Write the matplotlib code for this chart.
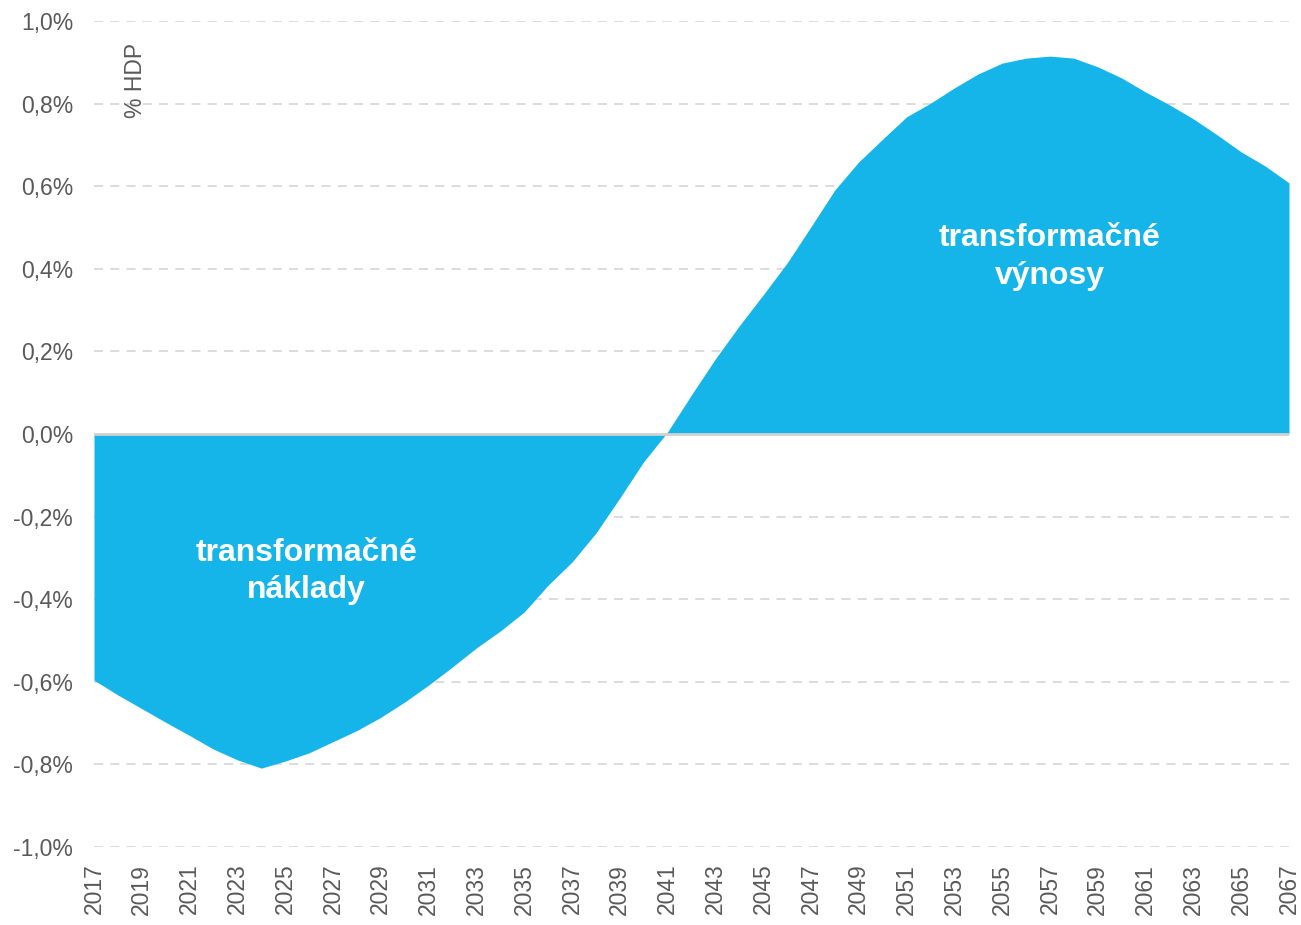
import matplotlib
matplotlib.use('Agg')
import matplotlib.pyplot as plt
import numpy as np

years = list(range(2017, 2068))
values = [
    -0.596, -0.632, -0.665, -0.698, -0.730, -0.763, -0.789, -0.809, -0.792, -0.772,
    -0.745, -0.718, -0.686, -0.649, -0.608, -0.564, -0.518, -0.477, -0.431, -0.366,
    -0.310, -0.240, -0.155, -0.067, 0.005, 0.095, 0.182, 0.262, 0.337, 0.414,
    0.502, 0.591, 0.659, 0.714, 0.768, 0.801, 0.838, 0.872, 0.898, 0.910,
    0.915, 0.910, 0.889, 0.862, 0.828, 0.797, 0.763, 0.724, 0.683, 0.649,
    0.608,
]
y_ticks = [-1.0, -0.8, -0.6, -0.4, -0.2, 0.0, 0.2, 0.4, 0.6, 0.8, 1.0]
y_tick_labels = ['-1,0%', '-0,8%', '-0,6%', '-0,4%', '-0,2%', '0,0%',
                 '0,2%', '0,4%', '0,6%', '0,8%', '1,0%']
x_ticks = years[::2]

plt.rcParams['font.family'] = ['Liberation Sans', 'DejaVu Sans']

fig = plt.figure(figsize=(13.01, 9.25), dpi=100)
ax = fig.add_axes([94 / 1301, 1 - 847 / 925, (1289 - 94) / 1301, (847 - 21) / 925])

fill_color = '#15b5ea'
ax.fill_between(years, values, 0, color=fill_color, linewidth=0, zorder=2)

# gridlines
for t in y_ticks:
    if t == 0:
        continue
    ax.axhline(t, color='#d9d9d9', linewidth=1.3, linestyle=(0, (5, 4)), zorder=1)
ax.axhline(0, color='#d0d0d0', linewidth=2, zorder=3)

ax.set_xlim(2017, 2067)
ax.set_ylim(-1.0, 1.0)
ax.set_yticks(y_ticks)
ax.set_yticklabels(y_tick_labels)
ax.set_xticks(x_ticks)
ax.set_xticklabels([str(y) for y in x_ticks], rotation=90)
ax.tick_params(axis='both', length=0, labelsize=16.5, labelcolor='#595959')
ax.tick_params(axis='y', pad=15)
ax.tick_params(axis='x', pad=12)
for s in ax.spines.values():
    s.set_visible(False)

ax.text(2018.75, 0.855, '% HDP', rotation=90, ha='center', va='center',
        fontsize=16.5, color='#595959')

ax.text(2025.9, -0.333, 'transformačné\nnáklady', ha='center', va='center',
        fontsize=23, fontweight='bold', color='white', linespacing=1.32, zorder=4)
ax.text(2057.0, 0.429, 'transformačné\nvýnosy', ha='center', va='center',
        fontsize=23, fontweight='bold', color='white', linespacing=1.32, zorder=4)

fig.savefig('out.png', dpi=100)
